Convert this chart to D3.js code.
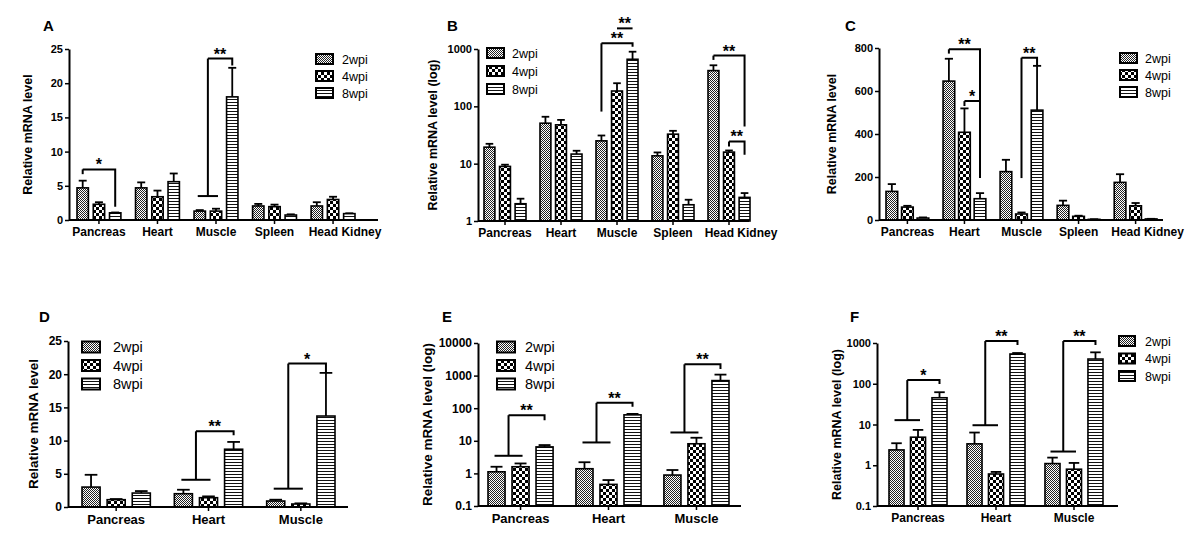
<!DOCTYPE html>
<html><head><meta charset="utf-8">
<script src="https://cdn.jsdelivr.net/npm/d3@7"></script>
<style>
html,body{margin:0;padding:0;background:#fff;}
svg{display:block;font-family:Arial,"Liberation Sans",sans-serif;}
</style></head><body>
<svg id="fig" width="1200" height="558"></svg>
<script>
// ---------------- DATA ----------------
const seriesNames = ["2wpi", "4wpi", "8wpi"];
const organs5 = ["Pancreas", "Heart", "Muscle", "Spleen", "Head Kidney"];
const organs3 = ["Pancreas", "Heart", "Muscle"];

// Panel A (linear)
const A_2wpi = [4.7, 4.7, 1.3, 2.05, 2.05];
const A_4wpi = [2.3, 3.4, 1.3, 1.95, 3.0];
const A_8wpi = [1.05, 5.6, 18.0, 0.73, 0.93];
const A_2wpi_sem = [1.05, 0.8, 0.15, 0.3, 0.55];
const A_4wpi_sem = [0.3, 0.9, 0.35, 0.3, 0.4];
const A_8wpi_sem = [0.05, 1.2, 4.25, 0.1, 0.05];
const A_ticks = [0, 5, 10, 15, 20, 25];
const A_tickLabels = ["0", "5", "10", "15", "20", "25"];
const A_sig = [
  {organ: "Pancreas", left: [0], right: 2, top: 7.4, leftEnd: 6.7, rightEnd: 1.95, mark: "*"},
  {organ: "Muscle", left: [0, 1], span: 3.5, right: 2, top: 23.6, rightEnd: 22.6, mark: "**"}
];

// Panel B (log)
const B_2wpi = [19.4, 50.8, 25, 13.7, 420];
const B_4wpi = [8.95, 47.6, 185, 32.7, 15.9];
const B_8wpi = [2.0, 14.7, 662, 1.92, 2.58];
const B_2wpi_sem = [2.8, 15, 6, 2, 100];
const B_4wpi_sem = [0.65, 10.4, 68, 4.7, 1.1];
const B_8wpi_sem = [0.45, 2.1, 235, 0.43, 0.49];
const B_ticks = [1, 10, 100, 1000];
const B_tickLabels = ["1", "10", "100", "1000"];
const B_sig = [
  {organ: "Muscle", left: [0], right: 2, top: 1259, leftEnd: 81, rightEnd: 1100, mark: "**"},
  {organ: "Muscle", left: [1], right: 2, top: 2290, leftEnd: 2290, rightEnd: 2290, mark: "**"},
  {organ: "Head Kidney", left: [0], right: 2, top: 767, leftEnd: 645, rightEnd: 44.5, mark: "**"},
  {organ: "Head Kidney", left: [1], right: 2, top: 24.4, leftEnd: 20, rightEnd: 14.3, mark: "**"}
];

// Panel C (linear)
const C_2wpi = [133, 646, 225, 68, 175];
const C_4wpi = [60, 408, 28, 17, 66];
const C_8wpi = [9, 99, 511, 3, 5];
const C_2wpi_sem = [34, 104, 55, 22, 38];
const C_4wpi_sem = [6, 111, 7, 3, 13];
const C_8wpi_sem = [3, 26, 206, 0.5, 0.5];
const C_ticks = [0, 200, 400, 600, 800];
const C_tickLabels = ["0", "200", "400", "600", "800"];
const C_sig = [
  {organ: "Heart", left: [0], right: 2, top: 794, leftEnd: 774, rightEnd: 195, mark: "**"},
  {organ: "Heart", left: [1], right: 2, top: 553, leftEnd: 530, rightEnd: 195, mark: "*"},
  {organ: "Muscle", left: [1], right: 2, top: 755, leftEnd: 195, rightEnd: 715, mark: "**"}
];

// Panel D (linear)
const D_2wpi = [3.0, 2.0, 0.9];
const D_4wpi = [1.1, 1.4, 0.45];
const D_8wpi = [2.1, 8.7, 13.7];
const D_2wpi_sem = [1.85, 0.6, 0.2];
const D_4wpi_sem = [0.1, 0.2, 0.1];
const D_8wpi_sem = [0.3, 1.1, 6.5];
const D_ticks = [0, 5, 10, 15, 20, 25];
const D_tickLabels = ["0", "5", "10", "15", "20", "25"];
const D_sig = [
  {organ: "Heart", left: [0, 1], span: 4.1, right: 2, top: 11.4, rightEnd: 10.8, mark: "**"},
  {organ: "Muscle", left: [0, 1], span: 2.76, right: 2, top: 21.6, rightEnd: 20.3, mark: "*"}
];

// Panel E (log)
const E_2wpi = [1.12, 1.39, 0.89];
const E_4wpi = [1.6, 0.46, 8.1];
const E_8wpi = [6.5, 62.5, 703];
const E_2wpi_sem = [0.48, 0.81, 0.38];
const E_4wpi_sem = [0.42, 0.165, 4.3];
const E_8wpi_sem = [0.9, 4.5, 369];
const E_ticks = [0.1, 1, 10, 100, 1000, 10000];
const E_tickLabels = ["0.1", "1", "10", "100", "1000", "10000"];
const E_sig = [
  {organ: "Pancreas", left: [0, 1], span: 3.47, right: 2, top: 61, rightEnd: 43, mark: "**"},
  {organ: "Heart", left: [0, 1], span: 8.9, right: 2, top: 146, rightEnd: 110, mark: "**"},
  {organ: "Muscle", left: [0, 1], span: 18, right: 2, top: 2222, rightEnd: 1600, mark: "**"}
];

// Panel F (log)
const F_2wpi = [2.38, 3.35, 1.1];
const F_4wpi = [4.88, 0.61, 0.8];
const F_8wpi = [45.3, 537, 404];
const F_2wpi_sem = [1.09, 3.0, 0.44];
const F_4wpi_sem = [2.5, 0.076, 0.34];
const F_8wpi_sem = [16.7, 31, 186];
const F_ticks = [0.1, 1, 10, 100, 1000];
const F_tickLabels = ["0.1", "1", "10", "100", "1000"];
const F_sig = [
  {organ: "Pancreas", left: [0, 1], span: 12.8, right: 2, top: 123, rightEnd: 98, mark: "*"},
  {organ: "Heart", left: [0, 1], span: 9.6, right: 2, top: 1116, rightEnd: 892, mark: "**"},
  {organ: "Muscle", left: [0, 1], span: 2.17, right: 2, top: 1116, rightEnd: 892, mark: "**"}
];

const yLabelLin = "Relative mRNA level";
const yLabelLog = "Relative mRNA level (log)";

// ---------------- PATTERNS ----------------
const svg = d3.select("#fig");
const defs = svg.append("defs");
const pat0 = defs.append("pattern").attr("id", "pat0").attr("patternUnits", "userSpaceOnUse").attr("width", 2).attr("height", 2);
pat0.append("rect").attr("width", 2).attr("height", 2).attr("fill", "#fff");
pat0.append("rect").attr("width", 1).attr("height", 1).attr("fill", "#222");
pat0.append("rect").attr("x", 1).attr("y", 1).attr("width", 1).attr("height", 1).attr("fill", "#222");
const pat1 = defs.append("pattern").attr("id", "pat1").attr("patternUnits", "userSpaceOnUse").attr("width", 6).attr("height", 6);
pat1.append("rect").attr("width", 6).attr("height", 6).attr("fill", "#000");
pat1.append("rect").attr("width", 3).attr("height", 3).attr("fill", "#fff");
pat1.append("rect").attr("x", 3).attr("y", 3).attr("width", 3).attr("height", 3).attr("fill", "#fff");
const pat2 = defs.append("pattern").attr("id", "pat2").attr("patternUnits", "userSpaceOnUse").attr("width", 3).attr("height", 3);
pat2.append("rect").attr("width", 3).attr("height", 3).attr("fill", "#fff");
pat2.append("rect").attr("width", 3).attr("height", 1).attr("fill", "#111");

// ---------------- PANELS ----------------
const fontTop = {tick: 11, cat: 12, ylab: 12.5};
const fontBot = {tick: 12, cat: 13, ylab: 13.5};

const panels = [
  {letter: "A", lx: 43, ly: 31, cats: organs5, log: false, domain: [0, 25],
   means: [A_2wpi, A_4wpi, A_8wpi], sems: [A_2wpi_sem, A_4wpi_sem, A_8wpi_sem],
   ticks: A_ticks, tickLabels: A_tickLabels, sig: A_sig, ylabel: yLabelLin,
   yBottom: 220, yTop: 49, ax0: 69, ax1: 378, gr: [77, 355], gPad: 0.25, bPad: 0.3,
   ylabelX: 28, legend: {x: 316, y: 59, dy: 17, w: 17, h: 10, tx: 342}, f: fontTop, fleg: 12.5, hkShift: 12},
  {letter: "B", lx: 447, ly: 31, cats: organs5, log: true, domain: [1, 1000],
   means: [B_2wpi, B_4wpi, B_8wpi], sems: [B_2wpi_sem, B_4wpi_sem, B_8wpi_sem],
   ticks: B_ticks, tickLabels: B_tickLabels, sig: B_sig, ylabel: yLabelLog,
   yBottom: 221, yTop: 49, ax0: 478, ax1: 749, gr: [484, 750], gPad: 0.25, bPad: 0.3,
   ylabelX: 433, legend: {x: 487, y: 53, dy: 18, w: 17, h: 10, tx: 512}, f: fontTop, fleg: 12.5, hkShift: 12},
  {letter: "C", lx: 845, ly: 31, cats: organs5, log: false, domain: [0, 800],
   means: [C_2wpi, C_4wpi, C_8wpi], sems: [C_2wpi_sem, C_4wpi_sem, C_8wpi_sem],
   ticks: C_ticks, tickLabels: C_tickLabels, sig: C_sig, ylabel: yLabelLin,
   yBottom: 220, yTop: 48, ax0: 879, ax1: 1163, gr: [886, 1157], gPad: 0.25, bPad: 0.25,
   ylabelX: 832, legend: {x: 1120, y: 58, dy: 17, w: 17, h: 10, tx: 1145}, f: fontTop, fleg: 12.5, hkShift: 12},
  {letter: "D", lx: 39, ly: 322, cats: organs3, log: false, domain: [0, 25],
   means: [D_2wpi, D_4wpi, D_8wpi], sems: [D_2wpi_sem, D_4wpi_sem, D_8wpi_sem],
   ticks: D_ticks, tickLabels: D_tickLabels, sig: D_sig, ylabel: yLabelLin,
   yBottom: 507, yTop: 341, ax0: 68, ax1: 348, gr: [82, 335], gPad: 0.26, bPad: 0.28,
   ylabelX: 33, legend: {x: 82, y: 347, dy: 18.5, w: 18, h: 11, tx: 113}, f: fontBot, fleg: 14.5, hkShift: 0},
  {letter: "E", lx: 442, ly: 322, cats: organs3, log: true, domain: [0.1, 10000],
   means: [E_2wpi, E_4wpi, E_8wpi], sems: [E_2wpi_sem, E_4wpi_sem, E_8wpi_sem],
   ticks: E_ticks, tickLabels: E_tickLabels, sig: E_sig, ylabel: yLabelLog,
   yBottom: 506, yTop: 343, ax0: 478, ax1: 741, gr: [488, 729], gPad: 0.26, bPad: 0.29,
   ylabelX: 427, legend: {x: 497, y: 347, dy: 18.5, w: 18, h: 11, tx: 525}, f: fontBot, fleg: 14.5, hkShift: 0},
  {letter: "F", lx: 850, ly: 322, cats: organs3, log: true, domain: [0.1, 1000],
   means: [F_2wpi, F_4wpi, F_8wpi], sems: [F_2wpi_sem, F_4wpi_sem, F_8wpi_sem],
   ticks: F_ticks, tickLabels: F_tickLabels, sig: F_sig, ylabel: yLabelLog,
   yBottom: 506, yTop: 343, ax0: 877, ax1: 1118, gr: [889, 1103], gPad: 0.256, bPad: 0.3,
   ylabelX: 837, legend: {x: 1119, y: 341, dy: 17.5, w: 16, h: 10, tx: 1145}, f: fontTop, fleg: 12.5, hkShift: 0}
];

function drawPanel(c) {
  const g = svg.append("g");
  const x = d3.scaleBand().domain(c.cats).range(c.gr).paddingInner(c.gPad).paddingOuter(0);
  const xi = d3.scaleBand().domain([0, 1, 2]).range([0, x.bandwidth()]).paddingInner(c.bPad);
  const y = (c.log ? d3.scaleLog() : d3.scaleLinear()).domain(c.domain).range([c.yBottom, c.yTop]);
  const base = c.domain[0];
  const bw = xi.bandwidth();
  const cxOf = (cat, s) => x(cat) + xi(s) + bw / 2;

  // error bars (upper only)
  c.means.forEach((arr, s) => {
    const eg = g.append("g").attr("stroke", "#000").attr("stroke-width", 1.8).attr("fill", "none");
    arr.forEach((v, i) => {
      const cx = cxOf(c.cats[i], s);
      const tip = y(v + c.sems[s][i]);
      eg.append("line").attr("x1", cx).attr("x2", cx).attr("y1", y(v)).attr("y2", tip);
      eg.append("line").attr("x1", cx - bw * 0.35).attr("x2", cx + bw * 0.35).attr("y1", tip).attr("y2", tip);
    });
  });
  // bars
  c.means.forEach((arr, s) => {
    g.append("g").selectAll("rect").data(arr).join("rect")
      .attr("x", (d, i) => x(c.cats[i]) + xi(s))
      .attr("y", d => y(d))
      .attr("width", bw)
      .attr("height", d => Math.max(0, y(base) - y(d)))
      .attr("fill", `url(#pat${s})`)
      .attr("stroke", "#000").attr("stroke-width", 1.6);
  });

  // y axis
  const yAxis = d3.axisLeft(y).tickValues(c.ticks).tickFormat((d, i) => c.tickLabels[i])
    .tickSize(4).tickPadding(2).tickSizeOuter(0);
  const ya = g.append("g").attr("transform", `translate(${c.ax0},0)`).call(yAxis);
  ya.select(".domain").attr("stroke-width", 2);
  ya.selectAll(".tick line").attr("stroke-width", 1.5);
  ya.selectAll("text").attr("font-size", c.f.tick).attr("font-weight", "bold")
    .attr("font-family", "Arial, 'Liberation Sans', sans-serif").attr("fill", "#000");

  // x axis
  const xAxis = d3.axisBottom(x).tickSize(4).tickSizeOuter(0).tickPadding(3.5);
  const xa = g.append("g").attr("transform", `translate(0,${c.yBottom})`).call(xAxis);
  xa.select(".domain").attr("d", `M${c.ax0},0H${c.ax1}`).attr("stroke-width", 2);
  xa.selectAll(".tick line").attr("stroke-width", 1.5);
  xa.selectAll("text").attr("font-size", c.f.cat).attr("font-weight", "bold")
    .attr("font-family", "Arial, 'Liberation Sans', sans-serif").attr("fill", "#000")
    .attr("dx", d => d === "Head Kidney" ? c.hkShift : 0);

  // y label
  g.append("text")
    .attr("transform", `translate(${c.ylabelX},${(c.yTop + c.yBottom) / 2}) rotate(-90)`)
    .attr("text-anchor", "middle").attr("dy", "0.35em")
    .attr("font-size", c.f.ylab).attr("font-weight", "bold").text(c.ylabel);

  // panel letter
  g.append("text").attr("x", c.lx).attr("y", c.ly).attr("font-size", 15).attr("font-weight", "bold").text(c.letter);

  // legend
  const L = c.legend;
  seriesNames.forEach((name, s) => {
    const yy = L.y + s * L.dy;
    g.append("rect").attr("x", L.x).attr("y", yy - L.h / 2).attr("width", L.w).attr("height", L.h)
      .attr("fill", `url(#pat${s})`).attr("stroke", "#000").attr("stroke-width", 2);
    g.append("text").attr("x", L.tx).attr("y", yy).attr("dy", "0.36em")
      .attr("font-size", c.fleg).text(name);
  });

  // significance brackets
  c.sig.forEach(sg => {
    const sgG = g.append("g").attr("stroke", "#000").attr("stroke-width", 2).attr("fill", "none");
    let lx;
    if (sg.left.length > 1) {
      const xa0 = cxOf(sg.organ, sg.left[0]) - 2;
      const xb0 = cxOf(sg.organ, sg.left[sg.left.length - 1]) + 2;
      sgG.append("line").attr("x1", xa0).attr("x2", xb0).attr("y1", y(sg.span)).attr("y2", y(sg.span));
      lx = (xa0 + xb0) / 2;
      sgG.append("line").attr("x1", lx).attr("x2", lx).attr("y1", y(sg.span)).attr("y2", y(sg.top));
    } else {
      lx = cxOf(sg.organ, sg.left[0]);
      sgG.append("line").attr("x1", lx).attr("x2", lx).attr("y1", y(sg.leftEnd)).attr("y2", y(sg.top));
    }
    const rx = cxOf(sg.organ, sg.right);
    sgG.append("path").attr("d", `M${lx},${y(sg.top)}H${rx}V${y(sg.rightEnd)}`);
    g.append("text").attr("x", (lx + rx) / 2).attr("y", y(sg.top) + 1)
      .attr("text-anchor", "middle").attr("font-size", 16).attr("font-weight", "bold").text(sg.mark);
  });
}

panels.forEach(drawPanel);
</script></body></html>
